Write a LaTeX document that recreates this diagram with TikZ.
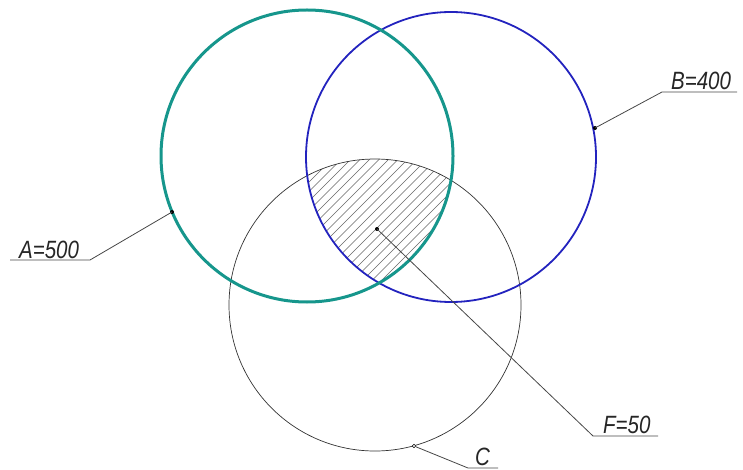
\documentclass[tikz,border=0pt]{standalone}
\usepackage{fontspec}
\setmainfont{Liberation Sans}
\definecolor{tealc}{RGB}{22,150,140}
\definecolor{bluec}{RGB}{35,35,190}
\definecolor{leadc}{RGB}{70,70,70}
\begin{document}
\begin{tikzpicture}[x=1pt,y=-1pt,
  lbl/.style={font=\fontsize{25}{25}\selectfont\itshape, anchor=base west, inner sep=0pt, xscale=0.82, text=black!85},
  leader/.style={draw=leadc, line width=0.8pt},
  dotm/.style={circle, fill=black, inner sep=0pt, minimum size=4pt}]
\useasboundingbox (0,0) rectangle (743,470);
\coordinate (cA) at (307,156);
\coordinate (cB) at (451,157);
\coordinate (cC) at (375,305);
% hatching
\begin{scope}
  \clip (cA) circle (146);
  \clip (cB) circle (145);
  \clip (cC) circle (146);
  \foreach \k in {0,...,60} {
    \draw[draw=black!60, line width=0.6pt] (\k*9.5,320) -- (\k*9.5+250,70);
  }
\end{scope}
\draw[black!80, line width=0.7pt] (cC) circle (146);
\draw[bluec, line width=1.8pt] (cB) circle (145);
\draw[tealc, line width=3pt] (cA) circle (146);
% markers
\node[dotm] (pA) at (172,212) {};
\node[dotm] (pB) at (595,128) {};
\node[dotm] (pF) at (377,229) {};
\node[circle, draw=black, fill=white, inner sep=0pt, minimum size=3.5pt, line width=0.6pt] (pC) at (414,446) {};
% labels
\node[lbl] (tA) at (19,258) {A=500};
\node[lbl] (tB) at (671,90) {B=400};
\node[lbl] (tF) at (603,433) {F=50};
\node[lbl] (tC) at (475,465) {C};
\coordinate (kA) at (90,260);
\coordinate (eA) at (10,260);
\coordinate (kB) at (662,92);
\coordinate (eB) at (737,92);
\coordinate (kF) at (593,436);
\coordinate (eF) at (658,436);
\coordinate (kC) at (468,468);
\coordinate (eC) at (498,468);
\draw[leader] (pA.center) -- (kA) -- (eA);
\draw[leader] (pB.center) -- (kB) -- (eB);
\draw[leader] (pF.center) -- (kF) -- (eF);
\draw[leader] (pC) -- (kC) -- (eC);
\end{tikzpicture}
\end{document}
